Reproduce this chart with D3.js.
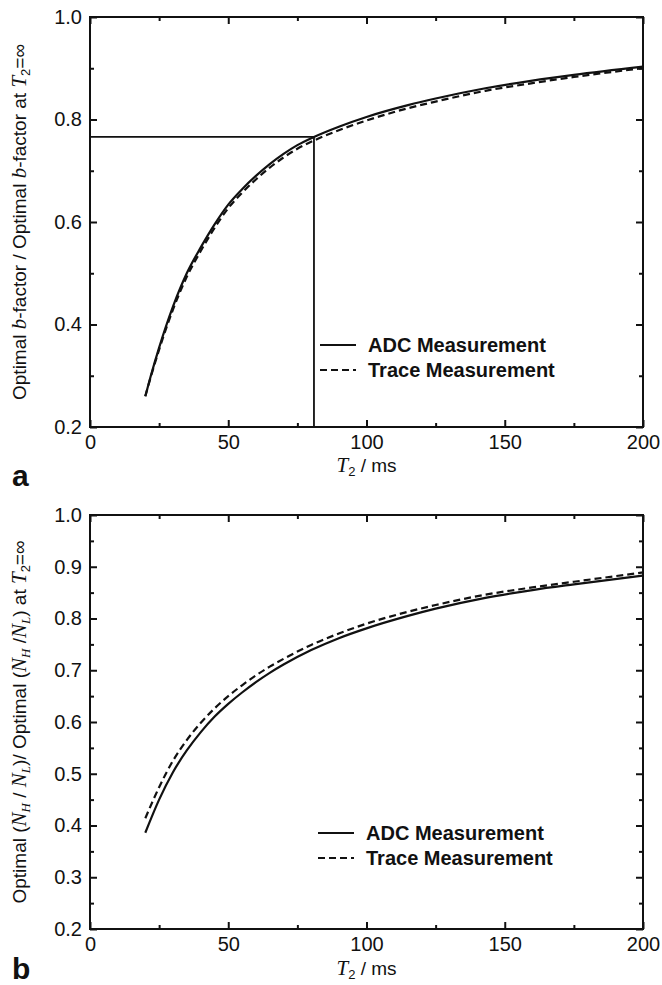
<!DOCTYPE html>
<html>
<head>
<meta charset="utf-8">
<script src="https://cdn.jsdelivr.net/npm/d3@7"></script>
<style>
  body { margin: 0; background: #fff; }
  svg { display: block; }
  text { font-family: "Liberation Sans", Arial, sans-serif; fill: #111; }
  .serif { font-family: "Liberation Serif", "Times New Roman", serif; font-style: italic; }
</style>
</head>
<body>
<div id="container"></div>
<script>
// T2 in ms
const t2A = [20, 22, 25, 30, 35, 40, 45, 50, 55, 60, 65, 70, 75, 81, 90, 100, 115, 125, 143, 160, 175, 200];
const adcA = [0.26, 0.30, 0.355, 0.435, 0.50, 0.55, 0.595, 0.634, 0.664, 0.69, 0.713, 0.733, 0.75, 0.766, 0.786, 0.805, 0.828, 0.841, 0.861, 0.876, 0.887, 0.903];
const traceA = [0.26, 0.298, 0.351, 0.429, 0.493, 0.543, 0.588, 0.627, 0.657, 0.683, 0.706, 0.726, 0.743, 0.759, 0.779, 0.798, 0.822, 0.835, 0.856, 0.871, 0.883, 0.90];

const t2B = [20, 25, 30, 35, 40, 45, 50, 55, 60, 65, 70, 80, 90, 100, 115, 125, 143, 160, 175, 200];
const adcB = [0.386, 0.45, 0.503, 0.545, 0.58, 0.61, 0.635, 0.657, 0.677, 0.695, 0.711, 0.739, 0.762, 0.781, 0.805, 0.819, 0.84, 0.855, 0.866, 0.883];
const traceB = [0.414, 0.474, 0.525, 0.565, 0.598, 0.626, 0.65, 0.671, 0.69, 0.707, 0.722, 0.749, 0.771, 0.79, 0.813, 0.826, 0.846, 0.86, 0.871, 0.889];

const xMajor = [0, 50, 100, 150, 200];
const xMinor = [25, 75, 125, 175];
const yMajorA = [0.2, 0.4, 0.6, 0.8, 1.0];
const yMinorA = [0.3, 0.5, 0.7, 0.9];
const yMajorB = [0.2, 0.3, 0.4, 0.5, 0.6, 0.7, 0.8, 0.9, 1.0];
const yMinorB = [0.25, 0.35, 0.45, 0.55, 0.65, 0.75, 0.85, 0.95];

const refT2 = 81;
const refValue = 0.766;

const legendNames = ['ADC Measurement', 'Trace Measurement'];

const width = 662;
const height = 985;

const svg = d3.select('#container').append('svg')
  .attr('width', width)
  .attr('height', height);

drawPanel(svg, {
  top: 17, bottom: 427, left: 90, right: 643,
  t2: t2A, adc: adcA, trace: traceA,
  yMajor: yMajorA, yMinor: yMinorA,
  legendX: 320, legendY: 345,
  letter: 'a', letterY: 486,
  xLabelY: 472,
  reference: true,
  yLabel: [
    { t: 'Optimal ' }, { t: 'b', i: true }, { t: '-factor / Optimal ' }, { t: 'b', i: true },
    { t: '-factor at ' }, { t: 'T', i: true }, { t: '2', sub: true }, { t: '=∞' }
  ]
});

drawPanel(svg, {
  top: 515, bottom: 929, left: 90, right: 643,
  t2: t2B, adc: adcB, trace: traceB,
  yMajor: yMajorB, yMinor: yMinorB,
  legendX: 318, legendY: 833,
  letter: 'b', letterY: 979,
  xLabelY: 975,
  reference: false,
  yLabel: [
    { t: 'Optimal (' }, { t: 'N', i: true }, { t: 'H', sub: true, i: true }, { t: ' / ' },
    { t: 'N', i: true }, { t: 'L', sub: true, i: true }, { t: ')/ Optimal (' },
    { t: 'N', i: true }, { t: 'H', sub: true, i: true }, { t: ' /' },
    { t: 'N', i: true }, { t: 'L', sub: true, i: true }, { t: ') at ' },
    { t: 'T', i: true }, { t: '2', sub: true }, { t: '=∞' }
  ]
});

function drawPanel(svg, o) {
  const x = d3.scaleLinear().domain([0, 200]).range([o.left, o.right]);
  const y = d3.scaleLinear().domain([0.2, 1.0]).range([o.bottom, o.top]);
  const g = svg.append('g');

  // ticks on all four sides, pointing inward
  const axisDefs = [
    [d3.axisBottom, x, `translate(0,${o.bottom})`, xMajor, xMinor, true, d3.format('d')],
    [d3.axisTop, x, `translate(0,${o.top})`, xMajor, xMinor, false, null],
    [d3.axisLeft, y, `translate(${o.left},0)`, o.yMajor, o.yMinor, true, d3.format('.1f')],
    [d3.axisRight, y, `translate(${o.right},0)`, o.yMajor, o.yMinor, false, null]
  ];
  axisDefs.forEach(([fn, sc, tr, major, minor, labels, fmt]) => {
    const majorAxis = fn(sc).tickValues(major).tickSizeInner(-7).tickSizeOuter(0)
      .tickPadding(labels ? 8 : 0)
      .tickFormat(labels ? fmt : '');
    const ga = g.append('g').attr('transform', tr).call(majorAxis);
    ga.select('.domain').remove();
    ga.selectAll('line').attr('stroke', '#111').attr('stroke-width', 2);
    ga.selectAll('text').style('font-size', '20px').attr('fill', '#111')
      .style('font-family', '"Liberation Sans", Arial, sans-serif');

    const minorAxis = fn(sc).tickValues(minor).tickSizeInner(-4).tickSizeOuter(0).tickFormat('');
    const gm = g.append('g').attr('transform', tr).call(minorAxis);
    gm.select('.domain').remove();
    gm.selectAll('line').attr('stroke', '#111').attr('stroke-width', 2);
  });

  // frame
  g.append('rect')
    .attr('x', x(0)).attr('y', y(1.0))
    .attr('width', x(200) - x(0)).attr('height', y(0.2) - y(1.0))
    .attr('fill', 'none').attr('stroke', '#111').attr('stroke-width', 2);

  // reference lines
  if (o.reference) {
    g.append('path')
      .attr('d', `M${x(0)},${y(refValue)}H${x(refT2)}V${y(0.2)}`)
      .attr('fill', 'none').attr('stroke', '#111').attr('stroke-width', 1.8);
  }

  const line = d3.line().curve(d3.curveMonotoneX);
  g.append('path')
    .attr('d', line(o.t2.map((t, i) => [x(t), y(o.adc[i])])))
    .attr('fill', 'none').attr('stroke', '#111').attr('stroke-width', 2.2);
  g.append('path')
    .attr('d', line(o.t2.map((t, i) => [x(t), y(o.trace[i])])))
    .attr('fill', 'none').attr('stroke', '#111').attr('stroke-width', 2.2)
    .attr('stroke-dasharray', '7,4');

  // legend
  legendNames.forEach((name, i) => {
    const ly = o.legendY + i * 25;
    g.append('line')
      .attr('x1', o.legendX).attr('x2', o.legendX + 36)
      .attr('y1', ly).attr('y2', ly)
      .attr('stroke', '#111').attr('stroke-width', 2.2)
      .attr('stroke-dasharray', i === 1 ? '7,4' : null);
    g.append('text')
      .attr('x', o.legendX + 48).attr('y', ly + 7)
      .style('font-size', '20px').style('font-weight', 'bold')
      .text(name);
  });

  // x label
  const xl = g.append('text')
    .attr('x', (o.left + o.right) / 2).attr('y', o.xLabelY)
    .attr('text-anchor', 'middle')
    .style('font-size', '19px');
  xl.append('tspan').attr('class', 'serif').style('font-size', '21px').text('T');
  xl.append('tspan').attr('dy', 4).style('font-size', '13px').text('2');
  xl.append('tspan').attr('dy', -4).text(' / ms');

  // y label
  const cy = (o.top + o.bottom) / 2;
  const yl = g.append('text')
    .attr('transform', `translate(26,${cy}) rotate(-90)`)
    .attr('text-anchor', 'middle')
    .style('font-size', '19px');
  let shifted = false;
  o.yLabel.forEach(p => {
    const ts = yl.append('tspan').text(p.t);
    if (p.i) ts.attr('class', 'serif').style('font-size', '21px');
    if (p.sub) {
      ts.style('font-size', '13px');
      if (!shifted) { ts.attr('dy', 4); shifted = true; }
    } else if (shifted) {
      ts.attr('dy', -4); shifted = false;
    }
  });

  // panel letter
  g.append('text')
    .attr('x', 12).attr('y', o.letterY)
    .style('font-size', '30px').style('font-weight', 'bold')
    .text(o.letter);
}
</script>
</body>
</html>
